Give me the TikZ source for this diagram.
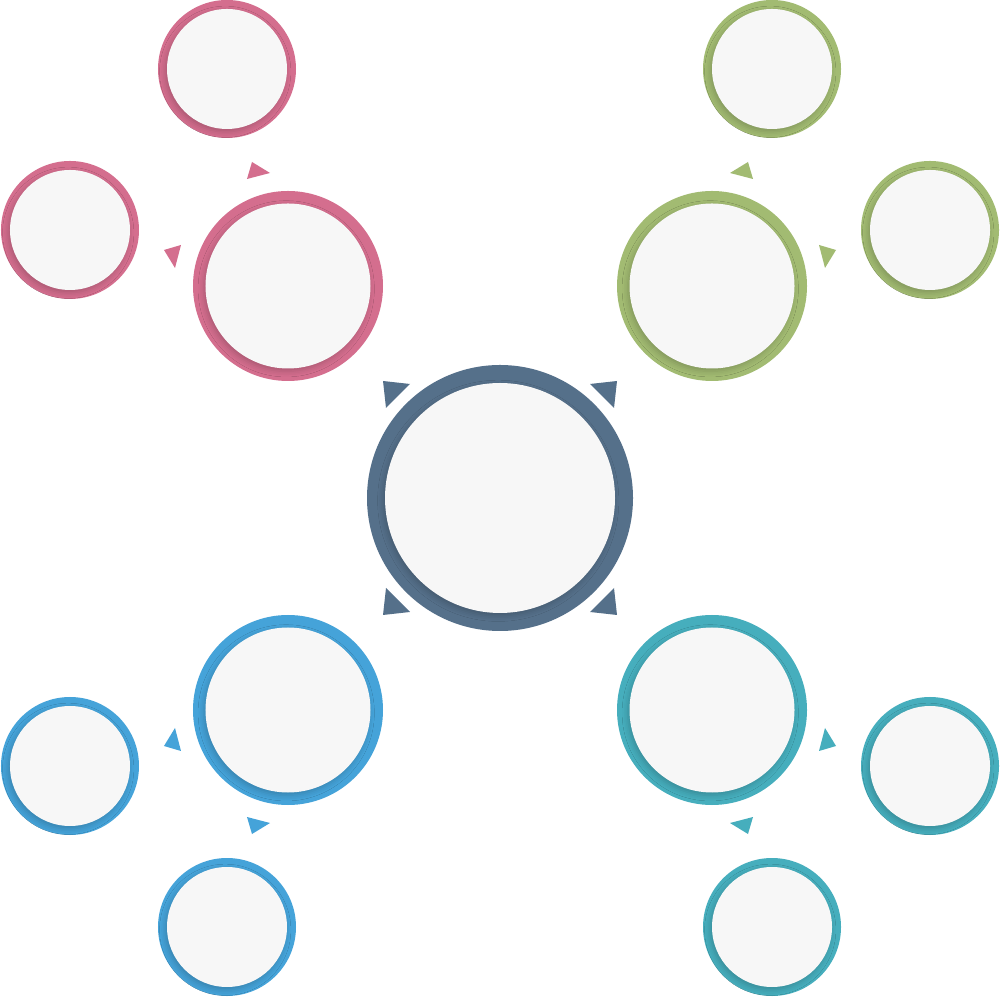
\documentclass[tikz,border=0pt]{standalone}
\usetikzlibrary{shadows.blur}

\definecolor{hubcol}{RGB}{85,112,138}
\definecolor{pinkcol}{RGB}{212,110,142}
\definecolor{greencol}{RGB}{162,187,114}
\definecolor{bluecol}{RGB}{69,163,217}
\definecolor{tealcol}{RGB}{70,174,189}
\definecolor{discgray}{RGB}{247,247,247}

\tikzset{
  ring/.style={circle,fill=#1,inner sep=0pt},
  disc/.style={circle,fill=discgray,inner sep=0pt,
    blur shadow={shadow xshift=-0.5pt,shadow yshift=-0.8pt,shadow blur radius=1.6pt,shadow opacity=20}},
  hub/.style={minimum size=2.66cm},
  hubin/.style={minimum size=2.30cm},
  big/.style={minimum size=1.90cm},
  bigin/.style={minimum size=1.65cm},
  small/.style={minimum size=1.38cm},
  smallin/.style={minimum size=1.20cm}
}

\begin{document}
\begin{tikzpicture}
  \useasboundingbox[fill=white] (-5,-4.99) rectangle (5,4.98);

  % centre
  \node[ring=hubcol,hub] (hub) at (0,0) {};
  \node[disc,hubin] (hub-in) at (hub) {};
  \fill[hubcol,shift={(hub)}] (-1.17,1.17) -- (-0.90,1.14) -- (-1.14,0.90) -- cycle;
  \fill[hubcol,shift={(hub)}] (1.17,1.17) -- (0.90,1.14) -- (1.14,0.90) -- cycle;
  \fill[hubcol,shift={(hub)}] (-1.17,-1.17) -- (-0.90,-1.14) -- (-1.14,-0.90) -- cycle;
  \fill[hubcol,shift={(hub)}] (1.17,-1.17) -- (0.90,-1.14) -- (1.14,-0.90) -- cycle;

  % pink
  \node[ring=pinkcol,big] (pinkbig) at (-2.12,2.12) {};
  \node[disc,bigin] (pinkbig-in) at (pinkbig) {};
  \node[ring=pinkcol,small] (pinktop) at (-2.73,4.29) {};
  \node[disc,smallin] (pinktop-in) at (pinktop) {};
  \node[ring=pinkcol,small] (pinkleft) at (-4.30,2.68) {};
  \node[disc,smallin] (pinkleft-in) at (pinkleft) {};
  \fill[pinkcol,shift={(pinkbig)}] (-0.36,1.24) -- (-0.18,1.13) -- (-0.41,1.07) -- cycle;
  \fill[pinkcol,shift={(pinkbig)}] (-1.24,0.36) -- (-1.13,0.18) -- (-1.07,0.41) -- cycle;

  % green
  \node[ring=greencol,big] (greenbig) at (2.12,2.12) {};
  \node[disc,bigin] (greenbig-in) at (greenbig) {};
  \node[ring=greencol,small] (greentop) at (2.72,4.29) {};
  \node[disc,smallin] (greentop-in) at (greentop) {};
  \node[ring=greencol,small] (greenright) at (4.30,2.68) {};
  \node[disc,smallin] (greenright-in) at (greenright) {};
  \fill[greencol,shift={(greenbig)}] (0.36,1.24) -- (0.18,1.13) -- (0.41,1.07) -- cycle;
  \fill[greencol,shift={(greenbig)}] (1.24,0.36) -- (1.13,0.18) -- (1.07,0.41) -- cycle;

  % blue
  \node[ring=bluecol,big] (bluebig) at (-2.12,-2.12) {};
  \node[disc,bigin] (bluebig-in) at (bluebig) {};
  \node[ring=bluecol,small] (blueleft) at (-4.30,-2.68) {};
  \node[disc,smallin] (blueleft-in) at (blueleft) {};
  \node[ring=bluecol,small] (bluebot) at (-2.73,-4.29) {};
  \node[disc,smallin] (bluebot-in) at (bluebot) {};
  \fill[bluecol,shift={(bluebig)}] (-1.24,-0.36) -- (-1.13,-0.18) -- (-1.07,-0.41) -- cycle;
  \fill[bluecol,shift={(bluebig)}] (-0.36,-1.24) -- (-0.18,-1.13) -- (-0.41,-1.07) -- cycle;

  % teal
  \node[ring=tealcol,big] (tealbig) at (2.12,-2.12) {};
  \node[disc,bigin] (tealbig-in) at (tealbig) {};
  \node[ring=tealcol,small] (tealright) at (4.30,-2.68) {};
  \node[disc,smallin] (tealright-in) at (tealright) {};
  \node[ring=tealcol,small] (tealbot) at (2.72,-4.29) {};
  \node[disc,smallin] (tealbot-in) at (tealbot) {};
  \fill[tealcol,shift={(tealbig)}] (1.24,-0.36) -- (1.13,-0.18) -- (1.07,-0.41) -- cycle;
  \fill[tealcol,shift={(tealbig)}] (0.36,-1.24) -- (0.18,-1.13) -- (0.41,-1.07) -- cycle;
\end{tikzpicture}
\end{document}
